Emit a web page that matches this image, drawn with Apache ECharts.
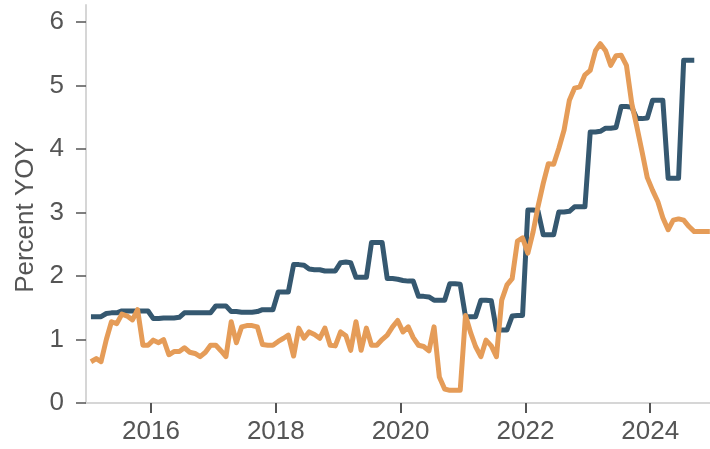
<!DOCTYPE html>
<html>
<head>
<meta charset="utf-8">
<script src="https://cdn.jsdelivr.net/npm/echarts@6/dist/echarts.min.js"></script>
<style>
  html, body {margin: 0; padding: 0; background: #fff;}
  #chart {width: 710px; height: 449px;}
</style>
</head>
<body>
<div id="chart"></div>
<script>
// monthly observations, Jan 2015 onward
const startYear = 2015
const monthCount = 120

// dark blue series (quarterly steps), Jan 2015 - Sep 2024
const blueValues = [
  1.36, 1.36, 1.36, 1.41, 1.42, 1.42, 1.45, 1.45, 1.45, 1.45, 1.45, 1.45,
  1.33, 1.33, 1.34, 1.34, 1.34, 1.35, 1.42, 1.42, 1.42, 1.42, 1.42, 1.42,
  1.53, 1.53, 1.53, 1.44, 1.44, 1.43, 1.43, 1.43, 1.44, 1.47, 1.47, 1.47,
  1.75, 1.75, 1.75, 2.18, 2.18, 2.17, 2.11, 2.10, 2.10, 2.08, 2.08, 2.08,
  2.21, 2.22, 2.21, 1.98, 1.98, 1.98, 2.53, 2.53, 2.53, 1.96, 1.96, 1.95,
  1.93, 1.92, 1.92, 1.68, 1.68, 1.67, 1.62, 1.62, 1.62, 1.88, 1.88, 1.87,
  1.36, 1.36, 1.36, 1.62, 1.62, 1.61, 1.15, 1.15, 1.15, 1.37, 1.38, 1.38,
  3.04, 3.04, 3.03, 2.65, 2.65, 2.65, 3.01, 3.01, 3.02, 3.09, 3.09, 3.09,
  4.27, 4.27, 4.28, 4.33, 4.33, 4.34, 4.67, 4.67, 4.66, 4.48, 4.48, 4.49,
  4.77, 4.77, 4.77, 3.54, 3.54, 3.54, 5.40, 5.40, 5.40
]

// orange series, Jan 2015 - Dec 2024
const orangeValues = [
  0.65, 0.70, 0.65, 1.00, 1.28, 1.25, 1.40, 1.37, 1.31, 1.47, 0.91, 0.91,
  0.99, 0.95, 1.00, 0.76, 0.81, 0.81, 0.87, 0.80, 0.78, 0.73, 0.80, 0.91,
  0.91, 0.82, 0.73, 1.28, 0.95, 1.20, 1.22, 1.22, 1.20, 0.92, 0.91, 0.91,
  0.97, 1.02, 1.07, 0.74, 1.18, 1.02, 1.12, 1.08, 1.02, 1.18, 0.91, 0.90,
  1.12, 1.06, 0.83, 1.28, 0.83, 1.18, 0.91, 0.91, 1.00, 1.07, 1.20, 1.30,
  1.12, 1.20, 1.03, 0.91, 0.89, 0.82, 1.20, 0.41, 0.22, 0.20, 0.20, 0.20,
  1.38, 1.10, 0.89, 0.73, 0.99, 0.90, 0.73, 1.62, 1.86, 1.96, 2.55, 2.60,
  2.36, 2.70, 3.09, 3.46, 3.77, 3.76, 4.01, 4.30, 4.77, 4.96, 4.98, 5.17,
  5.24, 5.55, 5.66, 5.55, 5.32, 5.47, 5.48, 5.32, 4.72, 4.35, 3.95, 3.55,
  3.35, 3.17, 2.92, 2.73, 2.88, 2.90, 2.88, 2.78, 2.70, 2.70, 2.70, 2.70
]

const xTickYears = [2016, 2018, 2020, 2022, 2024]
const yTicks = [0, 1, 2, 3, 4, 5, 6]

const months = []
for (let i = 0; i < monthCount; i++) {
  months.push(Date.UTC(startYear + Math.floor(i / 12), i % 12, 15))
}

const toPairs = values => values.map((v, i) => [months[i], v])
const xTickValues = xTickYears.map(y => Date.UTC(y, 0, 1))

const textColor = '#555555'
const fontFamily = '"Liberation Sans", Arial, sans-serif'

const chart = echarts.init(document.getElementById('chart'))
chart.setOption({
  animation: false,
  backgroundColor: '#ffffff',
  grid: {left: 86, right: 0, top: 5, bottom: 46},
  xAxis: {
    type: 'value',
    min: Date.UTC(2014, 11, 17),
    max: Date.UTC(2024, 11, 16),
    splitLine: {show: false},
    axisLine: {lineStyle: {color: '#d6d6d6', width: 2}},
    axisTick: {
      show: true,
      length: 10,
      lineStyle: {color: textColor, width: 2},
      customValues: xTickValues
    },
    axisLabel: {
      fontSize: 26,
      color: textColor,
      fontFamily,
      margin: 16,
      customValues: xTickValues,
      formatter: v => String(new Date(v).getUTCFullYear())
    }
  },
  yAxis: {
    type: 'value',
    min: 0,
    max: 6.27,
    name: 'Percent YOY',
    nameLocation: 'middle',
    nameGap: 44,
    nameTextStyle: {fontSize: 26, color: textColor, fontFamily, padding: [0, 26, 0, 0]},
    splitLine: {show: false},
    axisLine: {show: true, lineStyle: {color: '#d6d6d6', width: 2}},
    axisTick: {show: true, length: 10, lineStyle: {color: textColor, width: 1.5}, customValues: yTicks},
    axisLabel: {fontSize: 26, color: textColor, fontFamily, margin: 22, customValues: yTicks}
  },
  series: [{
    type: 'line',
    data: toPairs(blueValues),
    showSymbol: false,
    lineStyle: {color: '#355870', width: 5, join: 'round'}
  }, {
    type: 'line',
    data: toPairs(orangeValues),
    showSymbol: false,
    lineStyle: {color: '#e59c58', width: 5, join: 'round'}
  }]
})
</script>
</body>
</html>
